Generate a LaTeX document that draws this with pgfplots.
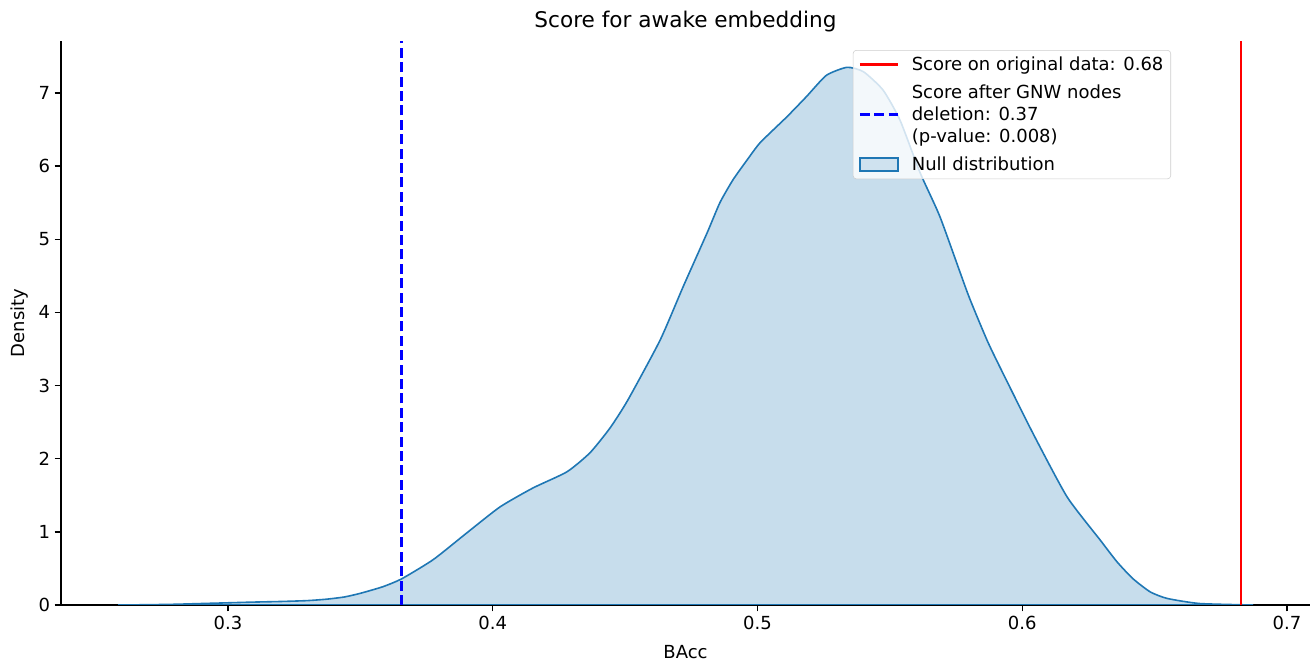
\documentclass[border=0pt]{standalone}
\usepackage{fontspec}
\setmainfont{DejaVu Sans}
\usepackage{pgfplots}
\pgfplotsset{compat=1.18}
\definecolor{tabblue}{RGB}{31,119,180}
\definecolor{fillblue}{RGB}{199,221,236}
\pgfplotsset{
  linelegend/.style={legend image code/.code={\draw[##1, sharp corners] (0pt,0pt) -- (28.5pt,0pt);}},
  patchlegend/.style={legend image code/.code={\draw[##1, sharp corners, line width=1.2pt] (0pt,-4.75pt) rectangle (28.5pt,4.75pt);}},
}
\begin{document}
\begin{tikzpicture}
\path[use as bounding box] (-45.75pt,-43.5pt) rectangle (940.5pt,453.75pt);
\begin{axis}[
  at={(0,0)}, anchor=south west,
  scale only axis, width=936.75pt, height=423pt,
  xmin=0.2369, xmax=0.7087, ymin=0, ymax=7.71,
  axis x line*=bottom, axis y line*=left,
  axis line style={line width=1.08pt, -},
  xtick={0.3,0.4,0.5,0.6,0.7},
  xticklabels={0.3,0.4,0.5,0.6,0.7},
  ytick={0,1,2,3,4,5,6,7},
  tick style={line width=1.08pt, black},
  tick align=outside, major tick length=4.7pt,
  /pgf/number format/assume math mode=true,
  ticklabel style={font=\fontsize{13.5}{16}\selectfont},
  label style={font=\fontsize{13.5}{16}\selectfont},
  xlabel={BAcc}, ylabel={Density},
  xlabel style={yshift=-5pt},
  ylabel style={yshift=1pt},
  title={Score for awake embedding},
  title style={font=\fontsize{16.2}{19}\selectfont, yshift=-3pt},
  reverse legend,
  legend cell align=left,
  legend style={at={(0.634,0.984)}, anchor=north west,
    font=\fontsize{13.5}{16.3}\selectfont,
    cells={align=left},
    fill=white, fill opacity=0.8, text opacity=1, draw opacity=1,
    draw=black!20, rounded corners=2.5pt, inner xsep=4pt, inner ysep=3.5pt,
    row sep=6.3pt, column sep=8pt,
    nodes={inner sep=1.5pt}},
]
\addplot[draw=tabblue, line width=1.2pt, fill=fillblue, smooth, tension=0.35, patchlegend] coordinates {
(0.2585,0.000) (0.270,0.004) (0.280,0.010) (0.290,0.020) (0.300,0.030)
(0.310,0.040) (0.320,0.048) (0.330,0.060) (0.3374,0.080) (0.344,0.110)
(0.350,0.160) (0.3585,0.250) (0.3657,0.360) (0.3775,0.620) (0.390,0.980)
(0.4027,1.340) (0.4152,1.600) (0.428,1.820) (0.4367,2.080) (0.4443,2.420)
(0.451,2.800) (0.4632,3.620) (0.4719,4.350) (0.481,5.090) (0.4858,5.500)
(0.4907,5.810) (0.496,6.080) (0.501,6.320) (0.511,6.670) (0.5185,6.950)
(0.526,7.240) (0.5338,7.350) (0.540,7.290) (0.5474,7.040) (0.5538,6.630)
(0.5614,5.910) (0.569,5.300) (0.5795,4.250) (0.5867,3.620) (0.5916,3.250)
(0.604,2.350) (0.6169,1.480) (0.6294,0.890) (0.6358,0.590) (0.6418,0.360)
(0.6483,0.180) (0.6547,0.090) (0.667,0.020) (0.6872,0.000)
} \closedcycle;
\addlegendentry{Null distribution}
\addplot[blue, line width=2pt, dash pattern=on 7.5pt off 3.3pt, linelegend] coordinates {(0.3656,0) (0.3656,7.71)};
\addlegendentry{Score after GNW nodes\\deletion: 0.37\\(p-value: 0.008)}
\addplot[red, line width=2pt, linelegend] coordinates {(0.6826,0) (0.6826,7.71)};
\addlegendentry{Score on original data: 0.68}
\end{axis}
\end{tikzpicture}
\end{document}
